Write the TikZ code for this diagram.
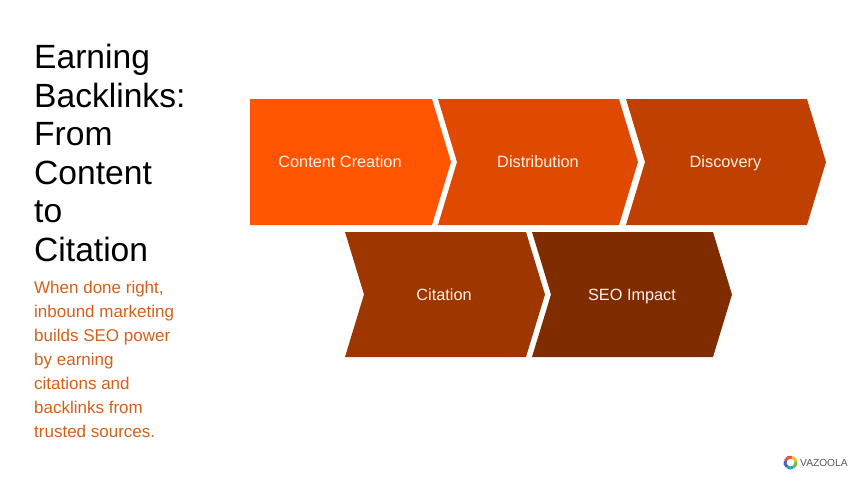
\documentclass[tikz,border=0pt]{standalone}
\usepackage{fontspec}
\setmainfont{Liberation Sans}
\definecolor{chevA}{HTML}{FF5500}
\definecolor{chevB}{HTML}{E04A00}
\definecolor{chevC}{HTML}{BF4000}
\definecolor{chevD}{HTML}{9E3600}
\definecolor{chevE}{HTML}{7F2C00}
\definecolor{bodyorange}{HTML}{D2601A}
\definecolor{labelcream}{HTML}{FFF1E6}
\definecolor{ringA}{HTML}{F0553A}
\definecolor{ringB}{HTML}{F5C02C}
\definecolor{ringC}{HTML}{6DBE45}
\definecolor{ringD}{HTML}{1FA9C9}
\definecolor{ringE}{HTML}{5A5DB8}
\tikzset{
  steplabel/.style={anchor=base, color=labelcream, font=\fontsize{16.3}{18}\selectfont},
  title/.style={anchor=north west, inner sep=0, align=left, font=\fontsize{33.6}{38.6}\selectfont},
  blurb/.style={anchor=north west, inner sep=0, align=left, color=bodyorange, font=\fontsize{17}{24}\selectfont},
  ring/.style={line width=3pt}
}
\begin{document}
\begin{tikzpicture}[x=1pt, y=-1pt]
  \useasboundingbox (0, 0) rectangle (860, 483);
  % text on the left
  \node [title] (heading) at (34, 44) {Earning\\Backlinks:\\From\\Content\\to\\Citation};
  \node [blurb] (summary) at (34, 281) {When done right,\\inbound marketing\\builds SEO power\\by earning\\citations and\\backlinks from\\trusted sources.};
  % top row
  \fill [color=chevA] (250, 99) -- (432, 99) -- (451, 162) -- (432, 225) -- (250, 225) -- cycle;
  \fill [color=chevB] (438, 99) -- (619, 99) -- (638, 162) -- (619, 225) -- (438, 225) -- (457, 162) -- cycle;
  \fill [color=chevC] (626, 99) -- (807, 99) -- (826, 162) -- (807, 225) -- (626, 225) -- (645, 162) -- cycle;
  \node [steplabel] (creation) at (340, 167.5) {Content Creation};
  \node [steplabel] (distribution) at (538, 167.5) {Distribution};
  \node [steplabel] (discovery) at (725.5, 167.5) {Discovery};
  % bottom row
  \fill [color=chevD] (345, 232) -- (526, 232) -- (545, 294.5) -- (526, 357) -- (345, 357) -- (364, 294.5) -- cycle;
  \fill [color=chevE] (532, 232) -- (713, 232) -- (732, 294.5) -- (713, 357) -- (532, 357) -- (551, 294.5) -- cycle;
  \node [steplabel] (citation) at (444, 300) {Citation};
  \node [steplabel] (impact) at (632, 300) {SEO Impact};
  % logo
  \coordinate (logo) at (790.5, 462.5);
  \draw [ring, color=ringA] (logo) ++(200:5.5) arc(200:290:5.5);
  \draw [ring, color=ringB] (logo) ++(290:5.5) arc(290:350:5.5);
  \draw [ring, color=ringC] (logo) ++(350:5.5) arc(350:420:5.5);
  \draw [ring, color=ringD] (logo) ++(60:5.5) arc(60:130:5.5);
  \draw [ring, color=ringE] (logo) ++(130:5.5) arc(130:200:5.5);
  \node [anchor=west, inner sep=0, color=black!65, font=\fontsize{10.2}{12}\selectfont] (brand) at (800, 463) {VAZOOLA};
\end{tikzpicture}
\end{document}
